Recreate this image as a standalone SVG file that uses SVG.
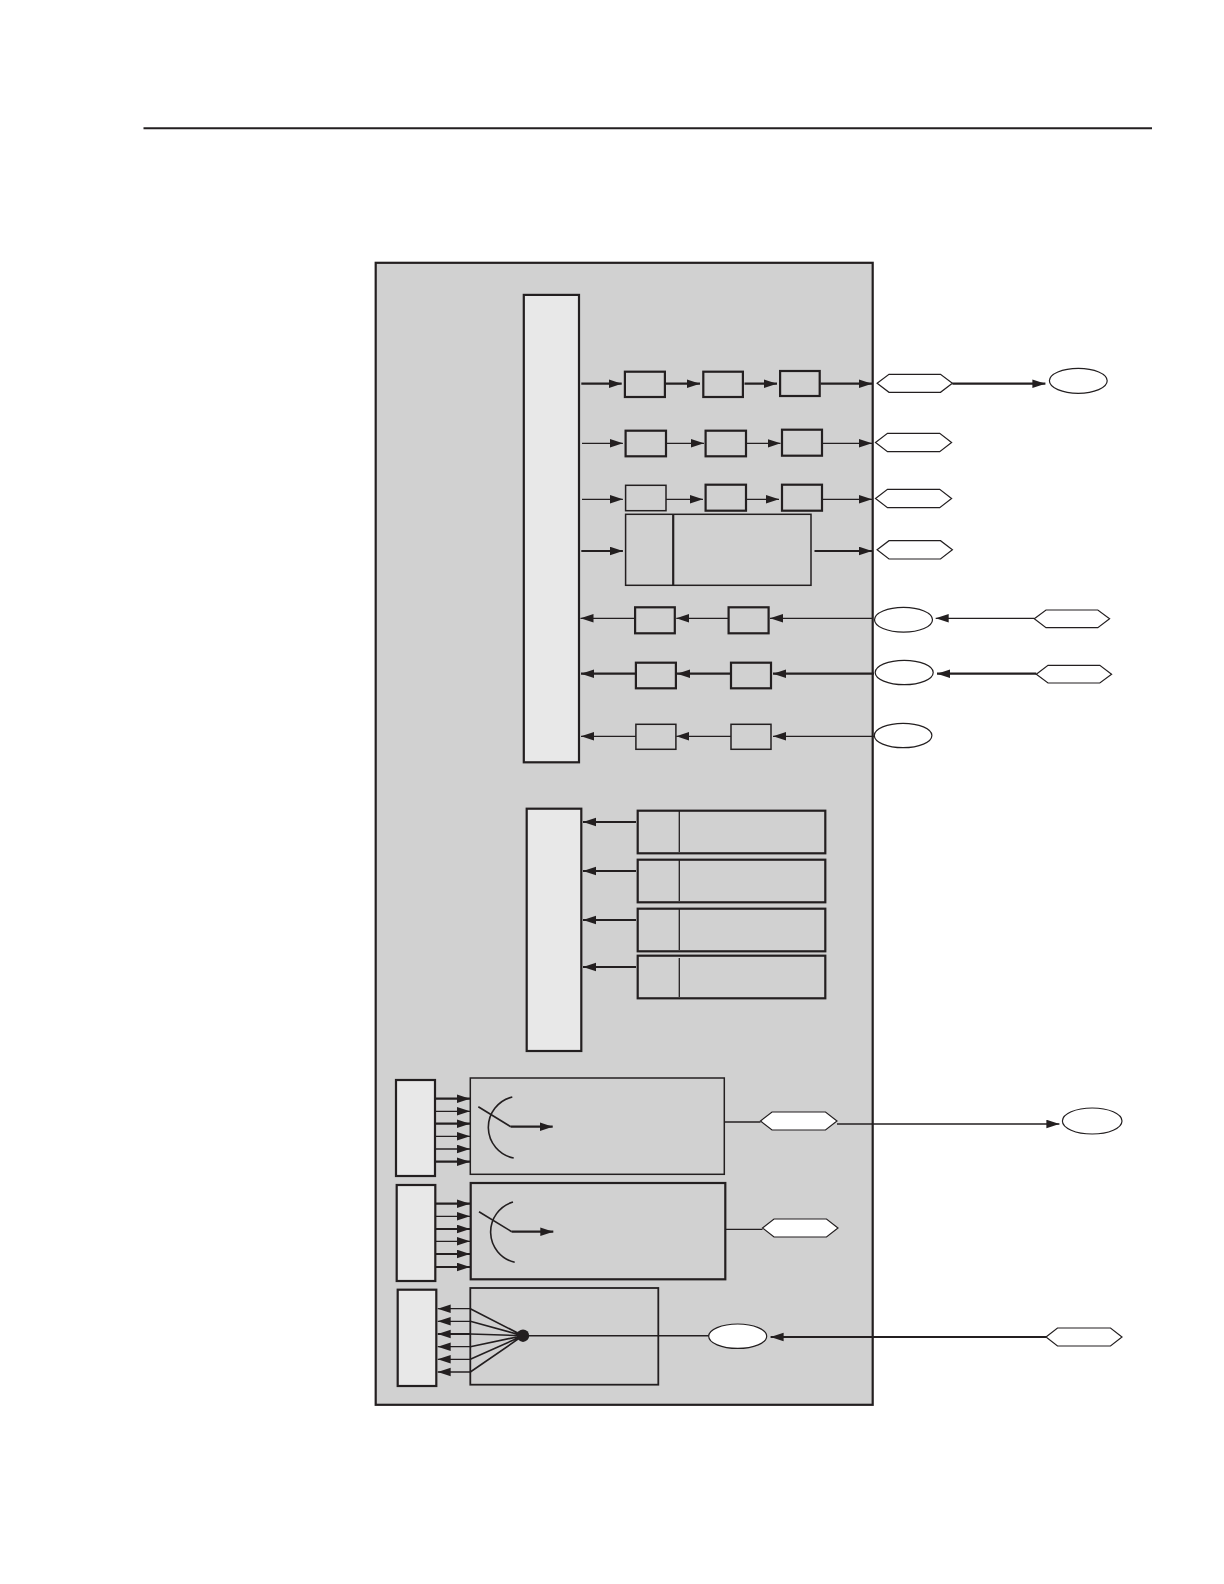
<svg xmlns="http://www.w3.org/2000/svg" width="1224" height="1584" viewBox="0 0 1224 1584">
<style>
.g{fill:#d1d1d1;stroke:#231f20;stroke-width:1.5}
.G{fill:#d1d1d1;stroke:#231f20;stroke-width:2.2}
.l{fill:#e8e8e8;stroke:#231f20;stroke-width:2.2}
.w{fill:#fff;stroke:#231f20;stroke-width:1.2}
.t{fill:none;stroke:#231f20;stroke-width:1.3}
.T{fill:none;stroke:#231f20;stroke-width:2.2}
.c{fill:none;stroke:#231f20;stroke-width:1.6}
.a{marker-end:url(#ah)}
</style>
<defs>
<marker id="ah" markerUnits="userSpaceOnUse" markerWidth="14" markerHeight="10" refX="13" refY="4.5" orient="auto"><path d="M0 0.2L13 4.5L0 8.8Z" fill="#231f20"/></marker>
</defs>
<rect width="1224" height="1584" fill="#fff"/>
<line id="page-rule" x1="143.5" y1="128.3" x2="1152" y2="128.3" stroke="#231f20" stroke-width="2"/>
<g id="chassis"><rect class="G" x="375.7" y="262.8" width="497" height="1142"/></g>
<g id="bus-a"><rect class="l" x="523.8" y="294.9" width="55.2" height="467.4"/></g>
<g id="r1b1"><rect class="G" x="624.9" y="371.7" width="40" height="25.3"/></g>
<g id="r1b2"><rect class="G" x="703.3" y="371.7" width="39.6" height="25.3"/></g>
<g id="r1b3"><rect class="G" x="780.1" y="371" width="39.6" height="25"/></g>
<g id="r2b1"><rect class="G" x="625.6" y="430.7" width="40.4" height="25.6"/></g>
<g id="r2b2"><rect class="G" x="705.6" y="430.7" width="40.4" height="25.6"/></g>
<g id="r2b3"><rect class="G" x="782" y="429.7" width="40" height="26"/></g>
<g id="r3b1"><rect class="g" x="625.6" y="485.3" width="40.4" height="25.4"/></g>
<g id="r3b2"><rect class="G" x="705.6" y="484.7" width="40.4" height="26"/></g>
<g id="r3b3"><rect class="G" x="782" y="484.7" width="40" height="26"/></g>
<g id="r4b"><rect class="g" x="625.6" y="514.3" width="185.4" height="71"/><line class="T" x1="673.2" y1="514.3" x2="673.2" y2="585.3"/></g>
<g id="r5b1"><rect class="G" x="635.1" y="607.3" width="39.7" height="26"/></g>
<g id="r5b2"><rect class="G" x="728.6" y="607.3" width="40" height="26"/></g>
<g id="r6b1"><rect class="G" x="635.9" y="662.7" width="40" height="25.6"/></g>
<g id="r6b2"><rect class="G" x="731" y="662.7" width="40" height="25.6"/></g>
<g id="r7b1"><rect class="g" x="635.9" y="724.3" width="40" height="25"/></g>
<g id="r7b2"><rect class="g" x="731" y="724.3" width="40" height="25"/></g>
<g id="hex1"><path class="w" d="M877.1 383.3L889 374.3H940.5L952.4 383.3L940.5 392.3H889Z"/></g>
<g id="hex2"><path class="w" d="M875.5 442.5L887.5 433.3H939.7L951.6 442.5L939.7 451.7H887.5Z"/></g>
<g id="hex3"><path class="w" d="M875.5 498.5L887.5 489.3H939.7L951.6 498.5L939.7 507.7H887.5Z"/></g>
<g id="hex4"><path class="w" d="M877.1 549.8L889 540.7H940.5L952.4 549.8L940.5 559H889Z"/></g>
<g id="hex5"><path class="w" d="M1034.3 618.8L1046 610H1097.8L1109.6 618.8L1097.8 627.7H1046Z"/></g>
<g id="hex6"><path class="w" d="M1036.3 674.2L1048 665.3H1099.8L1111.6 674.2L1099.8 683H1048Z"/></g>
<g id="oval1"><ellipse class="w" cx="1078.3" cy="380.8" rx="28.9" ry="12.5"/></g>
<g id="oval5"><ellipse class="w" cx="903.5" cy="619.7" rx="29" ry="12.4"/></g>
<g id="oval6"><ellipse class="w" cx="904.2" cy="672.5" rx="29" ry="12.2"/></g>
<g id="oval7"><ellipse class="w" cx="903.1" cy="735.5" rx="28.8" ry="12.2"/></g>
<g id="bus-b"><rect class="l" x="526.7" y="808.7" width="54.6" height="242.3"/></g>
<g id="m1"><rect class="G" x="637.7" y="810.7" width="187.6" height="42.6"/><line class="t" x1="679.3" y1="811" x2="679.3" y2="852"/></g>
<g id="m2"><rect class="G" x="637.7" y="859.7" width="187.6" height="42.6"/><line class="t" x1="679.3" y1="860" x2="679.3" y2="901"/></g>
<g id="m3"><rect class="G" x="637.7" y="908.7" width="187.6" height="42.6"/><line class="t" x1="679.3" y1="909" x2="679.3" y2="950"/></g>
<g id="m4"><rect class="G" x="637.7" y="955.7" width="187.6" height="42.6"/><line class="t" x1="679.3" y1="958" x2="679.3" y2="997"/></g>
<g id="src-a"><rect class="l" x="396" y="1080" width="39" height="96"/></g>
<g id="mux-a"><rect class="g" x="470.3" y="1078" width="254" height="96.3"/><path class="c" d="M512.3 1097A31.2 31.2 0 0 0 513.7 1158"/></g>
<g id="src-b"><rect class="l" x="396.7" y="1185" width="38.6" height="96"/></g>
<g id="mux-b"><rect class="G" x="470.7" y="1183" width="254.6" height="96.3"/><path class="c" d="M513 1202A31.2 31.2 0 0 0 514.7 1262.3"/></g>
<g id="src-c"><rect class="l" x="397.7" y="1289.7" width="38.6" height="96.3"/></g>
<g id="dem"><rect class="g" style="stroke-width:1.8" x="470.3" y="1288" width="188" height="96.7"/></g>
<g id="hex7"><path class="w" d="M760.5 1121L772 1112H825.5L837 1121L825.5 1130H772Z"/></g>
<g id="hex8"><path class="w" d="M762.5 1228L774 1219H826.5L838 1228L826.5 1237H774Z"/></g>
<g id="hex9"><path class="w" d="M1046 1337L1057.5 1328H1110.5L1122 1337L1110.5 1346H1057.5Z"/></g>
<g id="oval8"><ellipse class="w" cx="1092.2" cy="1121" rx="29.8" ry="13"/></g>
<g id="oval9"><ellipse class="w" cx="737.7" cy="1336.2" rx="29" ry="12.2"/></g>
<g id="connectors">
<path class="T a" d="M581.3 383.7H621.7"/><path class="T a" d="M665 383.7H700"/><path class="T a" d="M744.5 383.7H777"/><path class="T a" d="M820.5 383.7H872"/><path class="T a" d="M952.4 383.7H1045.4"/>
<path class="t a" d="M582 443.3H622.9"/><path class="t a" d="M666 443.3H704"/><path class="t a" d="M746 443.3H780.5"/><path class="t a" d="M822 443.3H872"/>
<path class="t a" d="M582 499.3H622.9"/><path class="t a" d="M666 499.3H703"/><path class="t a" d="M746 499.3H779"/><path class="t a" d="M822 499.3H872"/>
<path class="T a" d="M581.3 551H622.9"/><path class="T a" d="M814.5 551H872"/>
<path class="t a" d="M635.1 618.3H580.5"/><path class="t a" d="M728.6 618.3H676.3"/><path class="t a" d="M873 618.3H770"/><path class="t a" d="M1034.3 618.3H935.7"/>
<path class="T a" d="M635.9 673.7H581"/><path class="T a" d="M731 673.7H677"/><path class="T a" d="M874 673.7H773"/><path class="T a" d="M1036.3 673.7H937"/>
<path class="t a" d="M635.9 736.3H581"/><path class="t a" d="M731 736.3H676.3"/><path class="t a" d="M874 736.3H773"/>
<path class="T a" d="M636 822H583"/><path class="T a" d="M636 871H583"/><path class="T a" d="M636 920H583"/><path class="T a" d="M636 967H583"/>
<path class="T a" d="M435 1098.7H470"/><path class="t a" d="M435 1111.3H470"/><path class="T a" d="M435 1123.7H470"/><path class="t a" d="M435 1136.3H470"/><path class="t a" d="M435 1149H470"/><path class="T a" d="M435 1161.7H470"/>
<path class="T a" d="M435.3 1203.7H470"/><path class="t a" d="M435.3 1216.3H470"/><path class="T a" d="M435.3 1229H470"/><path class="t a" d="M435.3 1241.3H470"/><path class="T a" d="M435.3 1254H470"/><path class="T a" d="M435.3 1267H470"/>
<path class="c" d="M478.3 1106.7L510.7 1126.7"/><path class="T a" d="M510.7 1126.7H552.7"/>
<path class="c" d="M479 1211.7L511.7 1231.7"/><path class="T a" d="M511.7 1231.7H553.3"/>
<path class="t" d="M724.3 1122H760.5"/><path class="t a" d="M837 1124H1059.4"/><path class="t" d="M725.3 1229.3H762.5"/>
<path class="t a" d="M470.3 1308.7H437.7"/><path class="t a" d="M470.3 1321.3H437.7"/><path class="T a" d="M470.3 1334H437.7"/><path class="t a" d="M470.3 1346.7H437.7"/><path class="t a" d="M470.3 1359.3H437.7"/><path class="t a" d="M470.3 1372H437.7"/>
<path class="c" d="M470.3 1308.7L523 1335.7M470.3 1321.3L523 1335.7M470.3 1334L523 1335.7M470.3 1346.7L523 1335.7M470.3 1359.3L523 1335.7M470.3 1372L523 1335.7"/>
<circle cx="523" cy="1335.7" r="6.2" fill="#231f20"/>
<path class="c" d="M523 1335.7H708.7"/>
<path class="T a" d="M1046 1337H770.6"/>
</g>
</svg>
